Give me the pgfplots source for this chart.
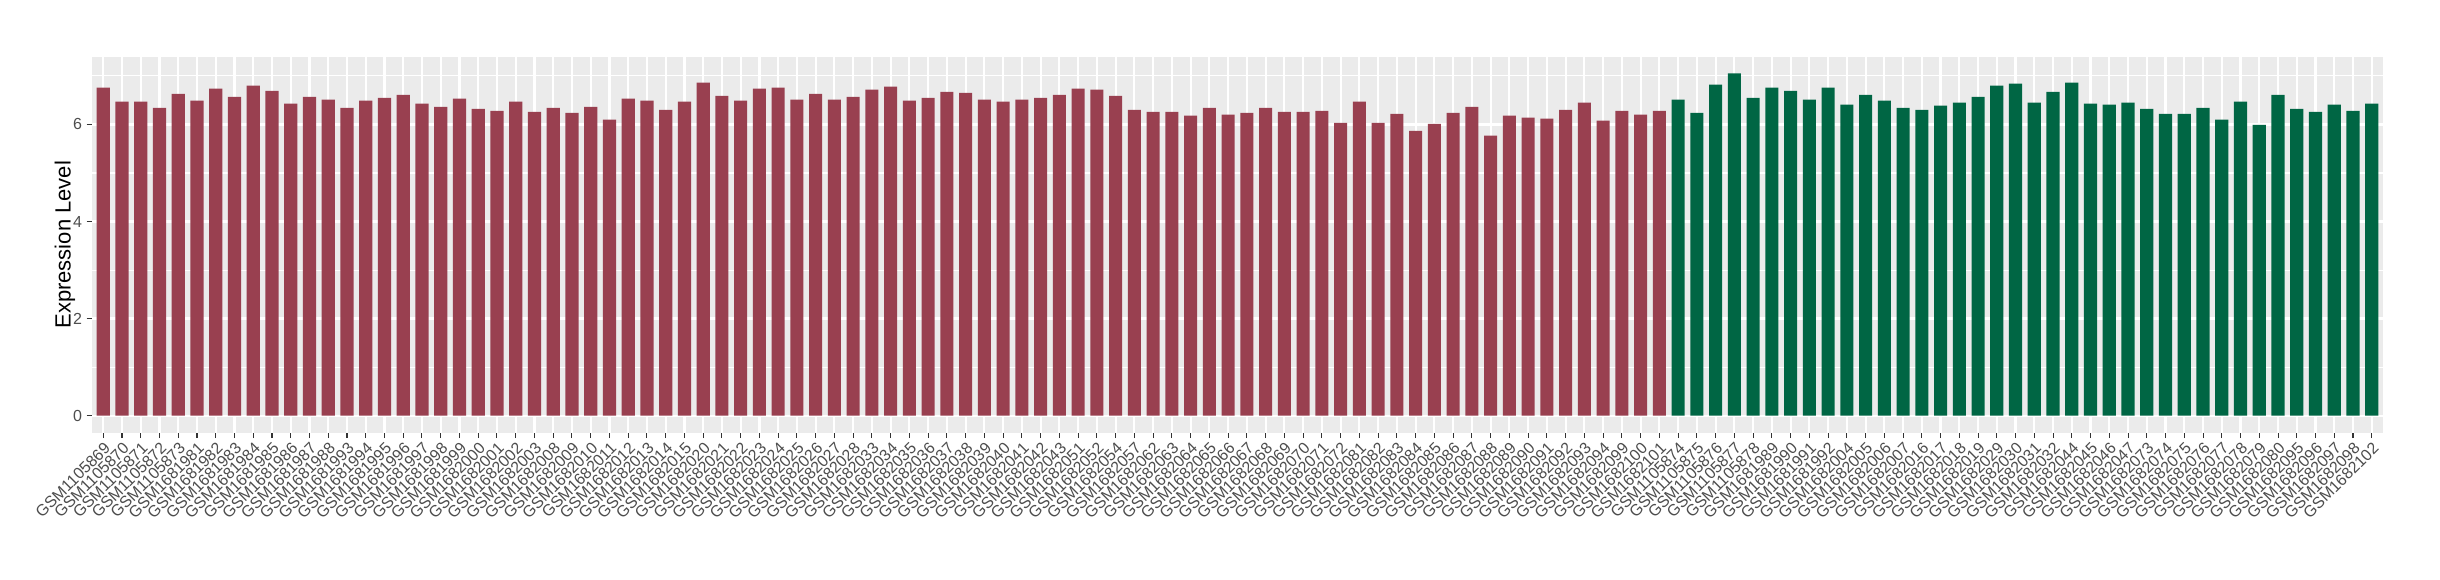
\documentclass[border=0pt]{standalone}
\usepackage{pgfplots}
\pgfplotsset{compat=1.18}
\usepackage{fontspec}
\setmainfont{Liberation Sans}
\definecolor{redbar}{HTML}{994050}
\definecolor{greenbar}{HTML}{006644}
\definecolor{panelbg}{HTML}{EBEBEB}
\definecolor{txt}{HTML}{4D4D4D}
\definecolor{tickc}{HTML}{333333}
\begin{document}
\begin{tikzpicture}
\begin{axis}[
  scale only axis, width=1145.5pt, height=188pt,
  xmin=0.4, xmax=122.6, ymin=-0.352, ymax=7.396,
  axis background/.style={fill=panelbg},
  axis line style={draw=none},
  ybar, bar width=0.7,
  xtick={1,...,122},
  xticklabels={GSM1105869,GSM1105870,GSM1105871,GSM1105872,GSM1105873,GSM1681981,GSM1681982,GSM1681983,GSM1681984,GSM1681985,GSM1681986,GSM1681987,GSM1681988,GSM1681993,GSM1681994,GSM1681995,GSM1681996,GSM1681997,GSM1681998,GSM1681999,GSM1682000,GSM1682001,GSM1682002,GSM1682003,GSM1682008,GSM1682009,GSM1682010,GSM1682011,GSM1682012,GSM1682013,GSM1682014,GSM1682015,GSM1682020,GSM1682021,GSM1682022,GSM1682023,GSM1682024,GSM1682025,GSM1682026,GSM1682027,GSM1682028,GSM1682033,GSM1682034,GSM1682035,GSM1682036,GSM1682037,GSM1682038,GSM1682039,GSM1682040,GSM1682041,GSM1682042,GSM1682043,GSM1682051,GSM1682052,GSM1682054,GSM1682057,GSM1682062,GSM1682063,GSM1682064,GSM1682065,GSM1682066,GSM1682067,GSM1682068,GSM1682069,GSM1682070,GSM1682071,GSM1682072,GSM1682081,GSM1682082,GSM1682083,GSM1682084,GSM1682085,GSM1682086,GSM1682087,GSM1682088,GSM1682089,GSM1682090,GSM1682091,GSM1682092,GSM1682093,GSM1682094,GSM1682099,GSM1682100,GSM1682101,GSM1105874,GSM1105875,GSM1105876,GSM1105877,GSM1105878,GSM1681989,GSM1681990,GSM1681991,GSM1681992,GSM1682004,GSM1682005,GSM1682006,GSM1682007,GSM1682016,GSM1682017,GSM1682018,GSM1682019,GSM1682029,GSM1682030,GSM1682031,GSM1682032,GSM1682044,GSM1682045,GSM1682046,GSM1682047,GSM1682073,GSM1682074,GSM1682075,GSM1682076,GSM1682077,GSM1682078,GSM1682079,GSM1682080,GSM1682095,GSM1682096,GSM1682097,GSM1682098,GSM1682102},
  xticklabel style={rotate=45, anchor=north east, font=\fontsize{8}{9}\selectfont, text=txt, inner sep=1pt},
  ytick={0,2,4,6}, minor ytick={1,3,5,7},
  yticklabel style={font=\fontsize{8}{9}\selectfont, text=txt, inner sep=2pt},
  /pgf/number format/assume math mode=true,
  xmajorgrids, ymajorgrids, yminorgrids,
  major grid style={white, line width=1.07pt},
  minor grid style={white, line width=0.53pt},
  tick align=outside, major tick length=2.75pt, minor tick length=0pt,
  tick style={color=tickc, line width=0.53pt},
  xtick pos=bottom, ytick pos=left,
  ylabel={Expression Level},
  every axis y label/.style={at={([xshift=-13.5pt]rel axis cs:0,0.5)}, rotate=90, anchor=center, font=\fontsize{11}{13}\selectfont},
]
\addplot[fill=redbar, draw=none, bar shift=0pt] coordinates {
(1,6.76) (2,6.47) (3,6.47) (4,6.34) (5,6.63) (6,6.49) (7,6.74) (8,6.57) (9,6.80) (10,6.69)
(11,6.43) (12,6.57) (13,6.51) (14,6.34) (15,6.49) (16,6.55) (17,6.61) (18,6.43) (19,6.36) (20,6.53)
(21,6.32) (22,6.28) (23,6.47) (24,6.26) (25,6.34) (26,6.24) (27,6.36) (28,6.10) (29,6.53) (30,6.49)
(31,6.30) (32,6.47) (33,6.86) (34,6.59) (35,6.49) (36,6.74) (37,6.76) (38,6.51) (39,6.63) (40,6.51)
(41,6.57) (42,6.72) (43,6.78) (44,6.49) (45,6.55) (46,6.67) (47,6.65) (48,6.51) (49,6.47) (50,6.51)
(51,6.55) (52,6.61) (53,6.74) (54,6.72) (55,6.59) (56,6.30) (57,6.26) (58,6.26) (59,6.18) (60,6.34)
(61,6.20) (62,6.24) (63,6.34) (64,6.26) (65,6.26) (66,6.28) (67,6.03) (68,6.47) (69,6.03) (70,6.22)
(71,5.87) (72,6.01) (73,6.24) (74,6.36) (75,5.77) (76,6.18) (77,6.14) (78,6.12) (79,6.30) (80,6.45)
(81,6.08) (82,6.28) (83,6.20) (84,6.28)
};
\addplot[fill=greenbar, draw=none, bar shift=0pt] coordinates {
(85,6.51) (86,6.24) (87,6.82) (88,7.05) (89,6.55) (90,6.76) (91,6.69) (92,6.51) (93,6.76) (94,6.41)
(95,6.61) (96,6.49) (97,6.34) (98,6.30) (99,6.39) (100,6.45) (101,6.57) (102,6.80) (103,6.84) (104,6.45)
(105,6.67) (106,6.86) (107,6.43) (108,6.41) (109,6.45) (110,6.32) (111,6.22) (112,6.22) (113,6.34) (114,6.10)
(115,6.47) (116,5.99) (117,6.61) (118,6.32) (119,6.26) (120,6.41) (121,6.28) (122,6.43)
};
\coordinate (bl) at (rel axis cs:0,0);
\coordinate (tr) at (rel axis cs:1,1);
\end{axis}
\pgfresetboundingbox
\path[use as bounding box] ([xshift=-46pt,yshift=-73.5pt]bl) rectangle ([xshift=28.5pt,yshift=28.35pt]tr);
\end{tikzpicture}
\end{document}
